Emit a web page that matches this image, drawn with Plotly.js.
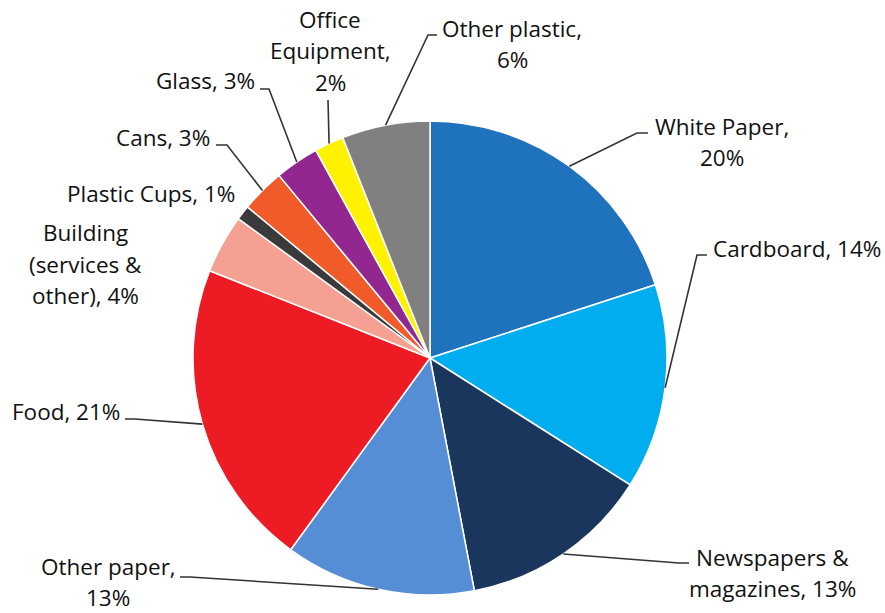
<!DOCTYPE html>
<html>
<head>
<meta charset="utf-8">
<script src="https://cdn.plot.ly/plotly-3.0.1.min.js"></script>
<style>html,body{margin:0;padding:0;background:#fff;}#chart{width:885px;height:613px;}</style>
</head>
<body>
<div id="chart"></div>
<script>
// ---- data ----
const categories = ["White Paper", "Cardboard", "Newspapers & magazines", "Other paper", "Food",
  "Building (services & other)", "Plastic Cups", "Cans", "Glass", "Office Equipment", "Other plastic"];
const values = [20, 14, 13, 13, 21, 4, 1, 3, 3, 2, 6];
const labelLines = [
  ["White Paper,", "{v}%"],
  ["Cardboard, {v}%"],
  ["Newspapers &", "magazines, {v}%"],
  ["Other paper,", "{v}%"],
  ["Food, {v}%"],
  ["Building", "(services &", "other), {v}%"],
  ["Plastic Cups, {v}%"],
  ["Cans, {v}%"],
  ["Glass, {v}%"],
  ["Office", "Equipment,", "{v}%"],
  ["Other plastic,", "{v}%"]
];

// ---- styles / positions ----
const colors = ["#1F72BC", "#00AEEF", "#1A365C", "#558ED5", "#ED1C24", "#F4A092",
  "#3A3A3A", "#F15A29", "#92278F", "#FFF200", "#808080"];
const W = 885, H = 613;
const CX = 430, CY = 358, R = 237;
// label block centres (px)
const labelPos = [[722,142],[797,249],[772,573],[108,582],[66,411],[85,264],[151,193],[163,137],[205,80],[330,51],[512,44]];
// leader: elbow point then end point (px); null = no leader
const leaders = [
  [[637,133],[648,133]],
  [[697,255],[707,255]],
  [[679,563],[689,563]],
  [[190,577],[180,577]],
  [[135,419],[125,419]],
  null,
  null,
  [[227,145],[216,145]],
  [[269,89],[260,89]],
  [[328,100],[328,100]],
  [[428,35],[437,35]]
];
const LINE_H = 31.5;
const FONT = {family: "Open Sans, sans-serif", size: 22.5, color: "#111111"};

const px = x => x / W;
const py = y => 1 - y / H;

const total = values.reduce((a, b) => a + b, 0);
let cum = 0;
const annotations = [];
const shapes = [];
values.forEach((v, i) => {
  const mid = (cum + v / 2) / total * 2 * Math.PI;
  cum += v;
  const ax = CX + R * Math.sin(mid);
  const ay = CY - R * Math.cos(mid);
  const lines = labelLines[i];
  const n = lines.length;
  lines.forEach((t, j) => {
    annotations.push({
      text: t.replace("{v}", v),
      x: px(labelPos[i][0]),
      y: py(labelPos[i][1] + (j - (n - 1) / 2) * LINE_H),
      xref: "paper", yref: "paper",
      xanchor: "center", yanchor: "middle",
      showarrow: false,
      borderpad: 0,
      font: FONT
    });
  });
  const L = leaders[i];
  if (L) {
    shapes.push({
      type: "path", xref: "paper", yref: "paper",
      path: `M ${px(ax)} ${py(ay)} L ${px(L[0][0])} ${py(L[0][1])} L ${px(L[1][0])} ${py(L[1][1])}`,
      line: {color: "#333333", width: 1.6}
    });
  }
});

const trace = {
  type: "pie",
  labels: categories,
  values: values,
  sort: false,
  direction: "clockwise",
  rotation: 0,
  textinfo: "none",
  hoverinfo: "label+percent",
  marker: {colors: colors, line: {color: "#ffffff", width: 1.5}},
  domain: {x: [(CX - R) / W, (CX + R) / W], y: [1 - (CY + R) / H, 1 - (CY - R) / H]},
  showlegend: false
};

const layout = {
  width: W, height: H,
  margin: {l: 0, r: 0, t: 0, b: 0},
  paper_bgcolor: "#ffffff",
  showlegend: false,
  annotations: annotations,
  shapes: shapes
};

Plotly.newPlot("chart", [trace], layout, {displayModeBar: false, staticPlot: true});
</script>
</body>
</html>
